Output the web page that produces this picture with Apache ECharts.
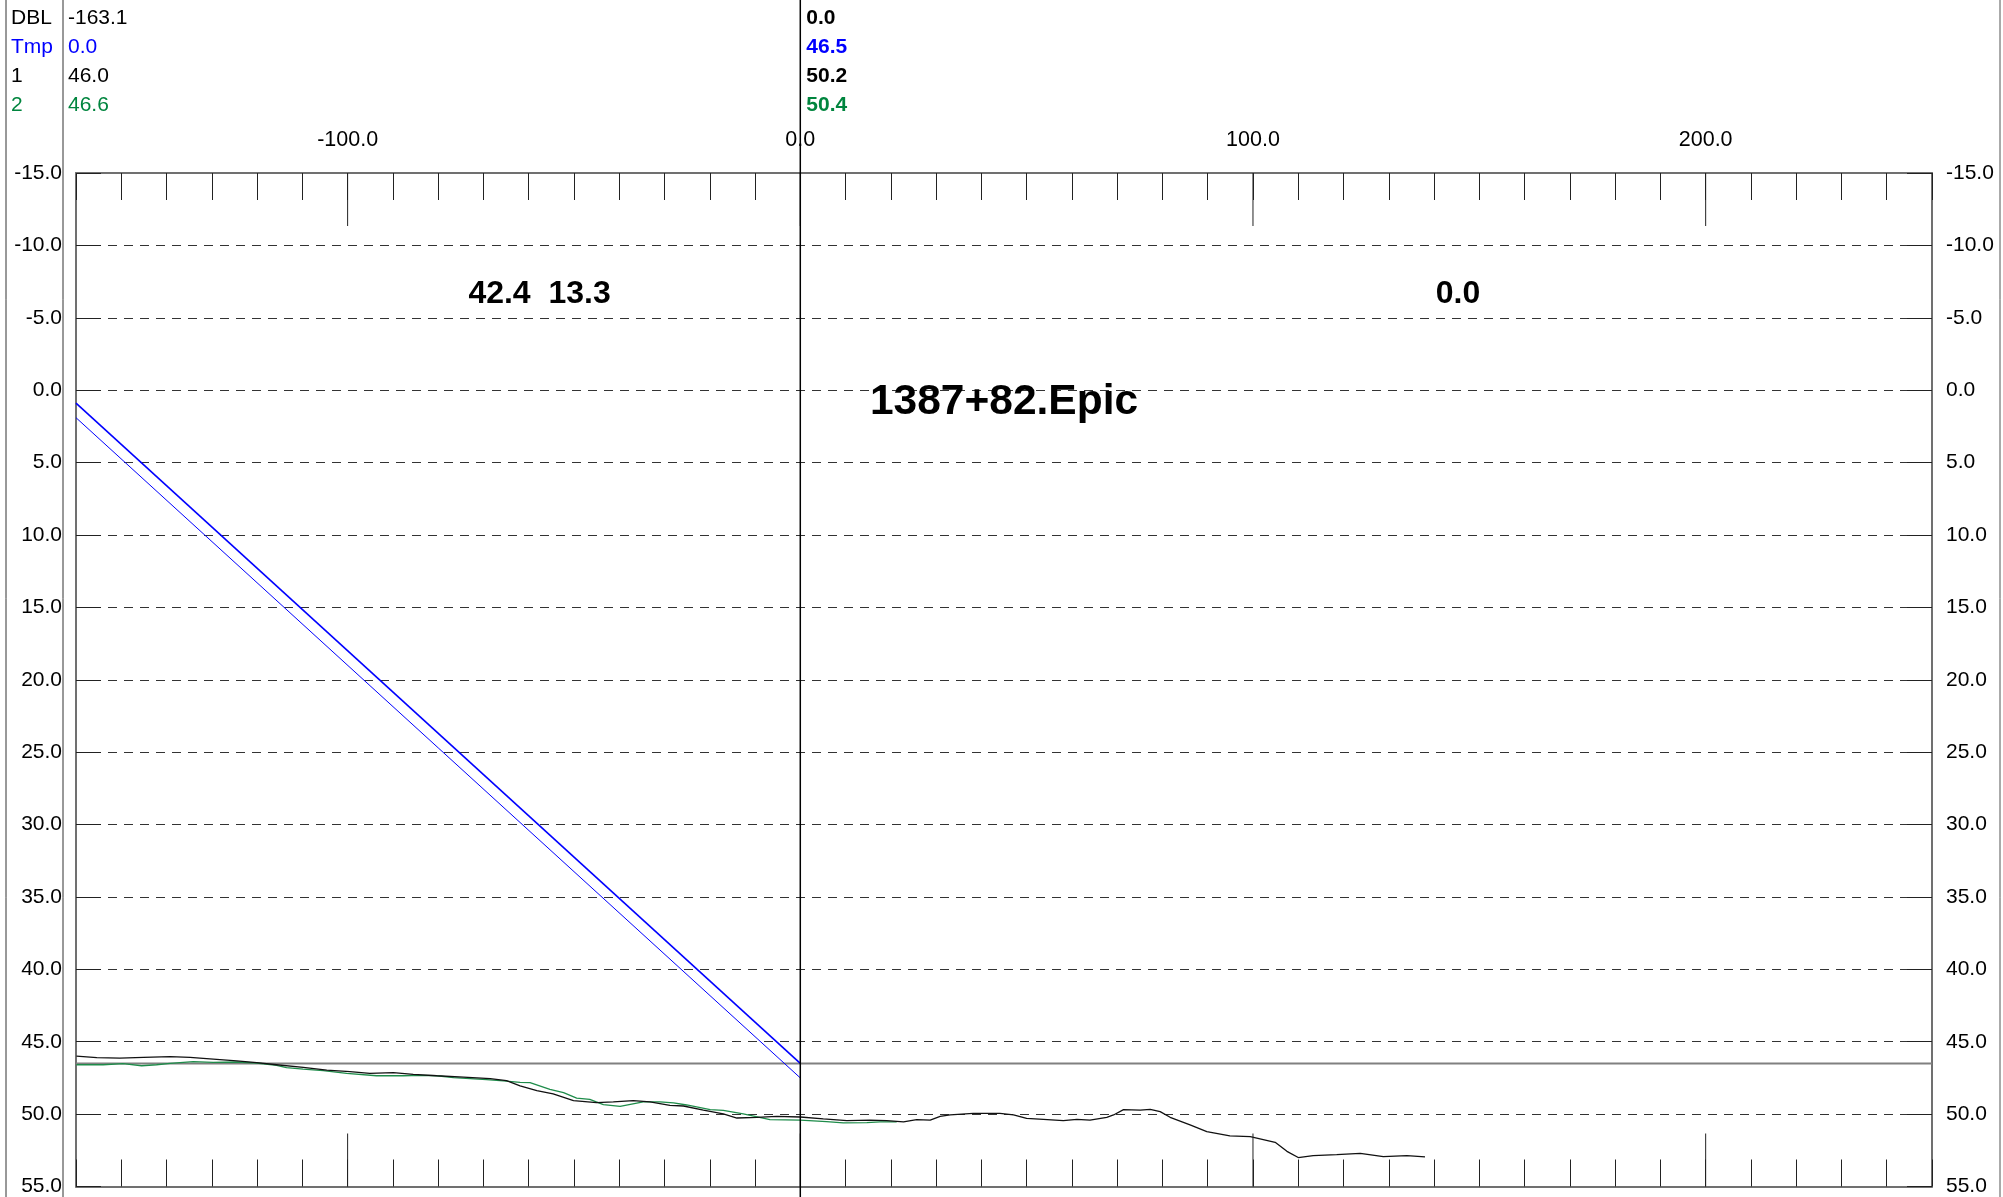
<!DOCTYPE html>
<html><head><meta charset="utf-8">
<script src="https://cdn.jsdelivr.net/npm/echarts@6/dist/echarts.min.js"></script>
<style>html,body{margin:0;padding:0;background:#fff;}#c{width:2003px;height:1197px;}</style>
</head><body><div id="c"></div>
<script>
// ---- data ----
const X_MIN = -160, X_MAX = 250, Y_MIN = -15, Y_MAX = 55;
const xMajorValues = [-100, 0, 100, 200];
const tmpLevel = 46.5;
const tmpLineA = [[-160, 0.9], [0, 46.5]];
const tmpLineB = [[-160, 1.9], [0, 47.5]];
const profile1 = [[-159.9,46.0],[-155.4,46.1],[-150.3,46.13],[-145.1,46.08],[-139.2,46.03],[-134.8,46.08],[-131.9,46.15],[-128.2,46.24],[-124.5,46.33],[-120.1,46.45],[-115.7,46.59],[-109.8,46.77],[-104.6,46.96],[-99.5,47.07],[-95.1,47.19],[-89.9,47.14],[-85.5,47.25],[-80.3,47.35],[-74.4,47.44],[-68.5,47.55],[-64.9,47.69],[-61.9,48.05],[-58.2,48.38],[-54.6,48.61],[-50.1,49.07],[-45.0,49.21],[-41.3,49.16],[-36.9,49.07],[-33.2,49.16],[-28.8,49.39],[-25.8,49.44],[-21.4,49.72],[-17.0,49.99],[-14.0,50.27],[-9.6,50.22],[-5.2,50.15],[0,50.2],[5.1,50.33],[10.3,50.45],[15.4,50.41],[19.1,50.45],[22.8,50.54],[25.7,50.38],[28.7,50.41],[30.9,50.15],[33.1,50.06],[38.2,49.95],[44.1,49.95],[47.1,50.06],[50.0,50.29],[53.7,50.36],[58.1,50.45],[61.1,50.36],[64.0,50.41],[67.7,50.22],[69.2,50.06],[71.4,49.69],[75.1,49.72],[77.3,49.67],[79.5,49.83],[81.7,50.22],[86.1,50.75],[89.8,51.21],[94.9,51.51],[99.4,51.56],[104.9,51.95],[107.5,52.57],[110.0,53.0],[113.3,52.87],[118.5,52.8],[123.7,52.71],[128.8,52.94],[134.0,52.87],[138.0,52.96]];
const profile2 = [[-159.9,46.59],[-154.0,46.59],[-149.6,46.52],[-145.5,46.66],[-142.2,46.59],[-139.2,46.5],[-134.1,46.38],[-129.7,46.43],[-124.5,46.4],[-120.1,46.47],[-115.7,46.63],[-113.5,46.79],[-109.8,46.89],[-105.4,47.0],[-100.2,47.19],[-93.6,47.35],[-87.7,47.35],[-84.0,47.32],[-80.3,47.35],[-76.6,47.48],[-69.3,47.62],[-65.6,47.71],[-61.9,47.81],[-59.7,47.83],[-55.3,48.29],[-52.3,48.52],[-49.4,48.89],[-46.5,48.98],[-43.5,49.35],[-39.8,49.46],[-34.7,49.16],[-31.0,49.16],[-28.0,49.23],[-25.1,49.37],[-19.9,49.69],[-17.0,49.74],[-12.6,49.99],[-6.7,50.38],[0,50.41],[5.8,50.52],[9.5,50.61],[14.7,50.59],[17.6,50.54],[21.3,50.54]];
const headerNames = ['DBL', 'Tmp', '1', '2'];
const headerLeftValues = ['-163.1', '0.0', '46.0', '46.6'];
const headerRightValues = ['0.0', '46.5', '50.2', '50.4'];
const headerColors = ['#000000', '#0000ff', '#000000', '#00853e'];
const annotTexts = ['42.4  13.3', '0.0', '1387+82.Epic'];
const annotAt = [[-57.6, -6.6], [145.3, -6.6], [45.0, 0.87]];
const annotSizes = [32, 32, 42.5];

// ---- chart ----
const FONT = '"Liberation Sans", Arial, sans-serif';
const MAJOR_TICK_LEN = 53;
const chart = echarts.init(document.getElementById('c'), null, {renderer: 'canvas'});
const fmt = v => Number(v).toFixed(1);
const minorX = (pos) => ({
  type: 'value', position: pos, min: X_MIN, max: X_MAX, interval: 10,
  axisLine: {show: true, onZero: false, lineStyle: {color: '#707070', width: 2}},
  axisTick: {show: true, inside: true, length: 27, lineStyle: {color: '#222', width: 1}},
  axisLabel: {show: false}, splitLine: {show: false}
});
const labelX = {
  type: 'value', position: 'top', min: X_MIN, max: X_MAX,
  axisLine: {show: false}, axisTick: {show: false},
  axisLabel: {show: true, customValues: xMajorValues, formatter: fmt, margin: 22, fontSize: 21.5, color: '#000', fontFamily: FONT},
  splitLine: {show: false}
};
const yAx = (pos, split) => ({
  type: 'value', position: pos, inverse: true, min: Y_MIN, max: Y_MAX, interval: 5,
  axisLine: {show: true, onZero: false, lineStyle: {color: '#707070', width: 2}},
  axisTick: {show: true, inside: true, length: 25, lineStyle: {color: '#222', width: 1}},
  axisLabel: {formatter: fmt, margin: 14, fontSize: 21, color: '#000', fontFamily: FONT, showMinLabel: true, showMaxLabel: true},
  splitLine: {show: split, lineStyle: {type: [9, 7], color: '#333', width: 1}}
});

chart.setOption({
  animation: false,
  backgroundColor: '#fff',
  grid: {left: 76, right: 71, top: 173, bottom: 10, containLabel: false},
  xAxis: [minorX('top'), labelX, minorX('bottom')],
  yAxis: [yAx('left', true), yAx('right', false)],
  series: [
    {type: 'line', data: [[X_MIN, tmpLevel], [X_MAX, tmpLevel]], showSymbol: false, lineStyle: {color: '#808080', width: 2}, z: 2},
    {type: 'line', data: tmpLineA, showSymbol: false, lineStyle: {color: '#0000ff', width: 1.6}, z: 3},
    {type: 'line', data: tmpLineB, showSymbol: false, lineStyle: {color: '#0000ff', width: 1}, z: 3},
    {type: 'line', data: profile2, showSymbol: false, lineStyle: {color: '#1e8c4a', width: 1.3}, z: 4},
    {type: 'line', data: profile1, showSymbol: false, lineStyle: {color: '#111', width: 1.3}, z: 5},
    {
      type: 'custom', data: xMajorValues.map(v => [v]), z: 6, silent: true,
      renderItem: (params, api) => {
        const v = api.value(0);
        const top = api.coord([v, Y_MIN]);
        const bot = api.coord([v, Y_MAX]);
        const st = {stroke: '#222', lineWidth: 1};
        return {type: 'group', children: [
          {type: 'line', shape: {x1: top[0], y1: top[1], x2: top[0], y2: top[1] + MAJOR_TICK_LEN}, style: st},
          {type: 'line', shape: {x1: bot[0], y1: bot[1], x2: bot[0], y2: bot[1] - MAJOR_TICK_LEN}, style: st}
        ]};
      }
    }
  ]
});

const x0 = chart.convertToPixel({xAxisIndex: 0, yAxisIndex: 0}, [0, 0])[0];
const g = [];
g.push({type: 'line', shape: {x1: 6, y1: 0, x2: 6, y2: 1197}, style: {stroke: '#333', lineWidth: 1}, z: 10});
g.push({type: 'line', shape: {x1: 63, y1: 0, x2: 63, y2: 1197}, style: {stroke: '#333', lineWidth: 1}, z: 10});
g.push({type: 'line', shape: {x1: 2000, y1: 0, x2: 2000, y2: 1197}, style: {stroke: '#555', lineWidth: 1}, z: 10});
g.push({type: 'line', shape: {x1: x0, y1: 0, x2: x0, y2: 1197}, style: {stroke: '#000', lineWidth: 1.5}, z: 20});
headerNames.forEach((t, i) => {
  const y = 18 + i * 29;
  g.push({type: 'text', x: 11, y: y, style: {text: t, fill: headerColors[i], font: '21px ' + FONT, verticalAlign: 'middle', textVerticalAlign: 'middle'}, z: 20});
  g.push({type: 'text', x: 68, y: y, style: {text: headerLeftValues[i], fill: headerColors[i], font: '21px ' + FONT, verticalAlign: 'middle', textVerticalAlign: 'middle'}, z: 20});
  g.push({type: 'text', x: x0 + 6, y: y, style: {text: headerRightValues[i], fill: headerColors[i], font: 'bold 21px ' + FONT, verticalAlign: 'middle', textVerticalAlign: 'middle'}, z: 20});
});
annotTexts.forEach((t, i) => {
  const p = chart.convertToPixel({xAxisIndex: 0, yAxisIndex: 0}, annotAt[i]);
  g.push({type: 'text', x: p[0], y: p[1], style: {text: t, fill: '#000', font: 'bold ' + annotSizes[i] + 'px ' + FONT, align: 'center', textAlign: 'center', verticalAlign: 'middle', textVerticalAlign: 'middle'}, z: 20});
});
chart.setOption({graphic: g});
</script></body></html>
